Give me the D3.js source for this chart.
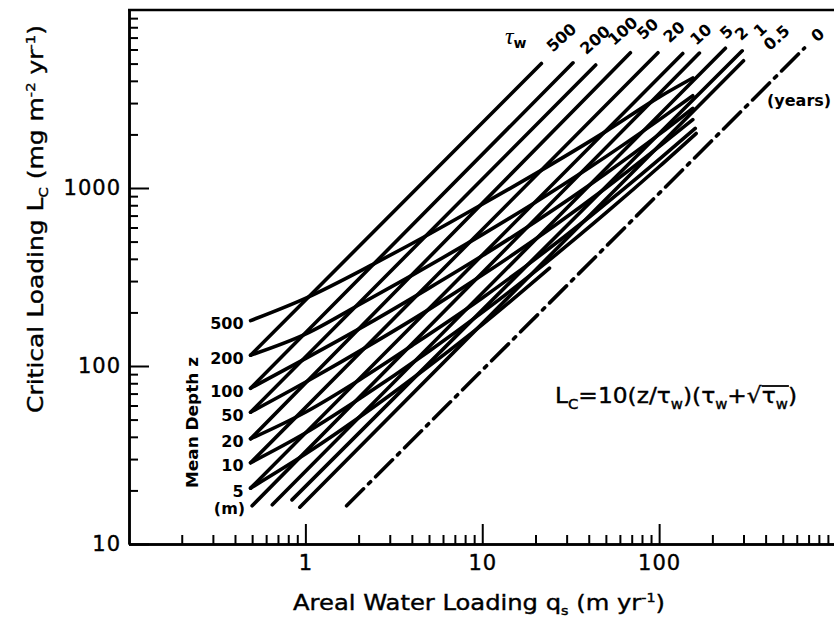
<!DOCTYPE html>
<html>
<head>
<meta charset="utf-8">
<script src="https://d3js.org/d3.v7.min.js"></script>
<style>
  body { margin: 0; background: #fff; }
  svg { font-family: "DejaVu Sans", "Liberation Sans", Arial, sans-serif; }
  .tick text { font-size: 21px; fill: #000; font-family: "DejaVu Sans", Arial, sans-serif; letter-spacing: 1px; stroke: #000; stroke-width: 0.4px; }
  .domain { stroke: #000; stroke-width: 2.5px; }
  .tick line { stroke: #000; stroke-width: 2px; }
  .curve { fill: none; stroke: #000; stroke-width: 3.6px; stroke-linecap: round; }
  .lab { font-weight: bold; font-size: 16px; }
  .heavy { stroke: #000; stroke-width: 0.4px; }
</style>
</head>
<body>
<svg width="834" height="622"></svg>
<script>
// values: q_s (m/yr) and L_c (mg m-2 yr-1)
var tauNames = ["500", "200", "100", "50", "20", "10", "5", "2", "1", "0.5", "0"];
var tauStart = [[0.49, 115], [0.49, 75], [0.49, 55], [0.49, 39], [0.49, 28.6], [0.49, 20.6],
                [0.5, 16.4], [0.65, 16.6], [0.84, 17.7], [0.93, 16.1], [1.71, 16.4]];
var tauEnd = [[21.6, 5010], [32.6, 5050], [43.8, 4910], [68.8, 5750], [98.5, 5750], [136, 5700],
              [169, 5730], [237, 6095], [295, 5900], [300, 5190], [664, 6120]];

var depthNames = ["500", "200", "100", "50", "20", "10", "5"];
var depth500 = [[0.49, 180], [1, 240], [2.5, 380], [5, 550], [10, 810], [25, 1370], [50, 2080], [100, 3240], [155, 4150]];
var depth200 = [[0.49, 115], [1, 151], [2, 220], [4, 323], [10, 547], [20, 832], [40, 1294], [100, 2414], [155, 3300]];
var depth100 = [[0.49, 75], [1, 110], [2, 161], [5, 274], [10, 416], [20, 647], [50, 1207], [100, 2000], [155, 2800]];
var depth50 = [[0.49, 55], [1, 81], [2.5, 137], [5, 208], [10, 324], [25, 604], [50, 1000], [100, 1707], [155, 2420]];
var depth20 = [[0.49, 39], [1, 55], [2, 83], [4, 130], [10, 241], [20, 400], [40, 683], [100, 1447], [160, 2160]];
var depth10 = [[0.49, 28.6], [1, 42], [2, 65], [5, 121], [10, 200], [20, 341], [50, 724], [100, 1316], [162, 2025]];
var depth5 = [[0.49, 20.6], [1, 32], [2.5, 60], [5, 100], [10, 171], [24, 355]];
var depthLines = [depth500, depth200, depth100, depth50, depth20, depth10, depth5];

var xMajor = [1, 10, 100];
var yMajor = [10, 100, 1000];
var xMinor = [0.2, 0.3, 0.4, 0.5, 0.6, 0.7, 0.8, 0.9, 2, 3, 4, 5, 6, 7, 8, 9,
              20, 30, 40, 50, 60, 70, 80, 90, 200, 300, 400, 500, 600, 700, 800, 900];
var yMinor = [20, 30, 40, 50, 60, 70, 80, 90, 200, 300, 400, 500, 600, 700, 800, 900,
              2000, 3000, 4000, 5000, 6000, 7000, 8000, 9000];

var svg = d3.select("svg");

var x = d3.scaleLog().domain([0.1, 1000]).range([128.5, 836]);
var y = d3.scaleLog().domain([10, 10000]).range([544, 10]);

// axes
svg.append("g").attr("transform", "translate(0,544)")
  .call(d3.axisBottom(x).tickValues(xMinor).tickSize(-9).tickSizeOuter(0).tickFormat(""));
svg.append("g").attr("transform", "translate(0,544)")
  .call(d3.axisBottom(x).tickValues(xMajor).tickSize(-20).tickSizeOuter(0).tickPadding(11).tickFormat(d3.format("d")));
svg.append("g").attr("transform", "translate(129,0)")
  .call(d3.axisLeft(y).tickValues(yMinor).tickSize(-9).tickSizeOuter(0).tickFormat(""));
svg.append("g").attr("transform", "translate(129,0)")
  .call(d3.axisLeft(y).tickValues(yMajor).tickSize(-20).tickSizeOuter(0).tickPadding(8).tickFormat(d3.format("d")));

svg.append("line").attr("x1", 128).attr("x2", 834).attr("y1", 10).attr("y2", 10)
  .attr("stroke", "#000").attr("stroke-width", 2.5);

var line = d3.line().x(function(d) { return x(d[0]); }).y(function(d) { return y(d[1]); });
var curve = d3.line().x(function(d) { return x(d[0]); }).y(function(d) { return y(d[1]); }).curve(d3.curveMonotoneX);

// residence time lines
tauNames.forEach(function(n, i) {
  var p = svg.append("path").attr("class", "curve").attr("d", line([tauStart[i], tauEnd[i]]));
  if (n === "0") p.attr("stroke-dasharray", "24,7,3,7").attr("stroke-linecap", "butt");
});

// mean depth lines
depthLines.forEach(function(pts) {
  svg.append("path").attr("class", "curve").attr("d", curve(pts));
});

// tau labels at top
var tauOff = {"500": [20, -26], "200": [22, -23], "100": [27, -34], "50": [17, -24], "20": [16, -21],
  "10": [18, -19], "5": [27, -21], "2": [16, -15], "1": [18, -21], "0.5": [33, -23], "0": [13, -13]};
tauNames.forEach(function(n, i) {
  var px = x(tauEnd[i][0]) + tauOff[n][0], py = y(tauEnd[i][1]) + tauOff[n][1];
  svg.append("text").attr("class", "lab").attr("font-size", 17)
    .attr("transform", "translate(" + px + "," + py + ") rotate(-42)")
    .attr("text-anchor", "middle").attr("dy", "0.35em").text(n);
});
var tw = svg.append("text").attr("x", 505).attr("y", 44).attr("font-size", 24);
tw.append("tspan").attr("font-family", "Liberation Serif").attr("font-style", "italic").text("τ");
tw.append("tspan").attr("font-size", 14).attr("font-weight", "bold").attr("dy", 4).text("w");

svg.append("text").attr("class", "lab").attr("font-size", 15).attr("x", 767).attr("y", 106).text("(years)");

// depth labels at left
depthNames.forEach(function(n, i) {
  svg.append("text").attr("class", "lab").attr("font-size", 17)
    .attr("x", x(depthLines[i][0][0]) - 7).attr("y", y(depthLines[i][0][1]) + 3)
    .attr("text-anchor", "end").attr("dy", "0.35em").text(n);
});
svg.append("text").attr("class", "lab").attr("font-size", 17)
  .attr("x", x(tauStart[6][0]) - 7).attr("y", y(tauStart[6][1]) + 3)
  .attr("text-anchor", "end").attr("dy", "0.35em").text("(m)");
svg.append("text").attr("class", "lab").attr("font-size", 14)
  .attr("transform", "translate(198,488) rotate(-90)").attr("textLength", 131)
  .attr("lengthAdjust", "spacingAndGlyphs").text("Mean Depth z");

// equation
var eq = svg.append("text").attr("class", "heavy").attr("x", 555).attr("y", 403).attr("font-size", 22)
  .attr("textLength", 242).attr("lengthAdjust", "spacingAndGlyphs");
eq.append("tspan").text("L");
eq.append("tspan").attr("font-size", 14).attr("dy", 6).text("C");
eq.append("tspan").attr("dy", -6).text("=10(z/τ");
eq.append("tspan").attr("font-size", 14).attr("dy", 6).text("w");
eq.append("tspan").attr("dy", -6).text(")(τ");
eq.append("tspan").attr("font-size", 14).attr("dy", 6).text("w");
eq.append("tspan").attr("dy", -6).text("+√");
var rt = eq.append("tspan").text("τ");
var rw = eq.append("tspan").attr("font-size", 14).attr("dy", 6).text("w");
eq.append("tspan").attr("dy", -6).text(")");
var b1 = rt.node().getBBox(), b2 = rw.node().getBBox();
svg.append("line").attr("x1", b1.x).attr("x2", b2.x + b2.width + 1)
  .attr("y1", b1.y + 3).attr("y2", b1.y + 3).attr("stroke", "#000").attr("stroke-width", 1.8);

// axis titles
var xt = svg.append("text").attr("class", "heavy").attr("x", 293).attr("y", 610).attr("font-size", 22)
  .attr("textLength", 372).attr("lengthAdjust", "spacingAndGlyphs");
xt.append("tspan").text("Areal Water Loading q");
xt.append("tspan").attr("font-size", 13).attr("dy", 5).text("s");
xt.append("tspan").attr("dy", -5).text(" (m yr");
xt.append("tspan").attr("font-size", 13).attr("dy", -8).text("-1");
xt.append("tspan").attr("dy", 8).text(")");

var yt = svg.append("text").attr("class", "heavy").attr("transform", "translate(43,413) rotate(-90)").attr("font-size", 22)
  .attr("textLength", 388).attr("lengthAdjust", "spacingAndGlyphs");
yt.append("tspan").text("Critical Loading L");
yt.append("tspan").attr("font-size", 13).attr("dy", 5).text("C");
yt.append("tspan").attr("dy", -5).text(" (mg m");
yt.append("tspan").attr("font-size", 13).attr("dy", -8).text("-2");
yt.append("tspan").attr("dy", 8).text(" yr");
yt.append("tspan").attr("font-size", 13).attr("dy", -8).text("-1");
yt.append("tspan").attr("dy", 8).text(")");
</script>
</body>
</html>
